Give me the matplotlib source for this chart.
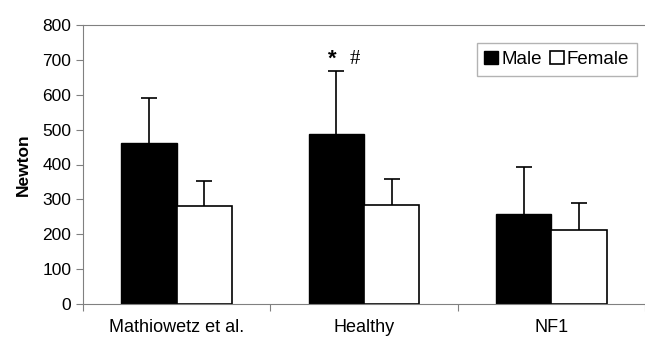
import numpy as np
from matplotlib import pyplot as plt

plt.rcParams['font.family'] = ['Liberation Sans', 'DejaVu Sans']

# data
groups = ['Mathiowetz et al.', 'Healthy', 'NF1']
male = [463, 487, 257]
male_sd = [128, 180, 135]
female = [280, 283, 212]
female_sd = [73, 76, 78]

x = np.arange(len(groups))
w = 0.295

fig = plt.figure(figsize=(6.45, 3.4), dpi=100)
ax = fig.add_axes([83 / 645, 1 - 304 / 340, 562 / 645, 279 / 340])

ax.bar(x - w / 2, male, w, color='black', edgecolor='black', lw=1, label='Male')
ax.bar(x + w / 2, female, w, color='white', edgecolor='black', lw=1.2, label='Female')

# one-sided error bars (upper only), cap only at the top
for xs, vals, sd in [(x - w / 2, male, male_sd), (x + w / 2, female, female_sd)]:
    tops = np.array(vals) + np.array(sd)
    ax.vlines(xs, vals, tops, color='black', lw=1.2, zorder=3)
    ax.plot(xs, tops, ls='none', marker='_', markersize=11, mew=1.2, color='black', zorder=3)

# significance marks above the healthy male bar
ax.text(x[1] - w / 2 - 0.02, male[1] + male_sd[1] + 6, '*', ha='center', va='bottom',
        fontsize=16, fontweight='bold')
ax.text(x[1] - w / 2 + 0.1, male[1] + male_sd[1] + 8, '#', ha='center', va='bottom',
        fontsize=15, family='Liberation Serif')

ax.set_ylim(0, 800)
ax.set_yticks(range(0, 801, 100))
ax.set_xlim(-0.5, -0.5 + 562 / 190)
ax.set_xticks([-0.5, 0.5, 1.5, 2.5])
ax.set_xticklabels([])
ax.set_xticks(x, minor=True)
ax.set_xticklabels(groups, minor=True)
ax.tick_params(axis='x', which='minor', length=0, pad=11, labelsize=13)
ax.tick_params(axis='x', which='major', length=5, color='#808080', direction='out')
ax.tick_params(axis='y', length=5, color='#808080', direction='out', labelsize=12.5)

for s in ['left', 'top', 'bottom']:
    ax.spines[s].set_color('#808080')
ax.spines['right'].set_visible(False)

ax.set_ylabel('Newton', fontsize=12.5, fontweight='bold', labelpad=8)

leg = ax.legend(loc='upper right', bbox_to_anchor=(0.9855, 0.935), ncol=2,
                fontsize=13.5, handlelength=0.75, handleheight=0.75, handletextpad=0.15,
                columnspacing=0.45, borderpad=0.4, fancybox=False, borderaxespad=0)
leg.get_frame().set_edgecolor('#a0a0a0')
leg.get_frame().set_linewidth(1)

plt.savefig('out.png', dpi=100)
